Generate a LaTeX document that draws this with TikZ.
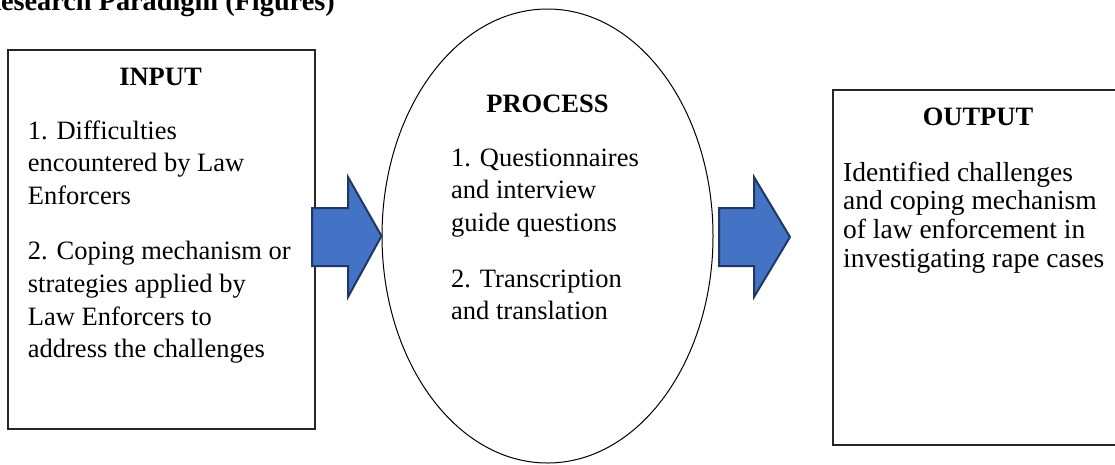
\documentclass[tikz,border=0pt]{standalone}
\usepackage{fontspec}
\setmainfont{Liberation Serif}
\usetikzlibrary{shapes.geometric}
\definecolor{arrowfill}{HTML}{4472C4}
\definecolor{arrowline}{HTML}{1F3864}
\begin{document}
\begin{tikzpicture}[x=1pt,y=-1pt,
  box/.style={draw=black!85, line width=1.5pt, inner sep=0pt},
  oval/.style={draw=black, ellipse, line width=1pt, inner sep=0pt},
  hd/.style={anchor=base, inner sep=0pt, font=\fontsize{26.5}{32}\selectfont\bfseries},
  body/.style={anchor=base west, inner sep=0pt, font=\fontsize{26.5}{32.6}\selectfont},
  outbody/.style={anchor=base west, inner sep=0pt, font=\fontsize{27.5}{28.8}\selectfont},
  blockarrow/.style={fill=arrowfill, draw=arrowline, line width=2pt, line join=miter}]
\useasboundingbox (0,0) rectangle (1115,464);
\clip (0,0) rectangle (1115,464);

% title (cut by the page edge)
\node[anchor=base east, inner sep=0pt, font=\fontsize{28.3}{34}\selectfont\bfseries] (title) at (335,10) {Research Paradigm (Figures)};

% shapes
\node[box, anchor=north west, minimum width=307pt, minimum height=379pt] (inbox) at (7,49) {};
\node[oval, minimum width=331pt, minimum height=454pt] (proc) at (547.5,236) {};
\node[box, anchor=north west, minimum width=300pt, minimum height=355pt] (outbox) at (832,89) {};

% block arrows
\coordinate (rtip) at (790,237);
\draw[blockarrow] (312,208) -- (348,208) -- (348,177) -- (proc.west) -- (348,297) -- (348,266) -- (312,266) -- cycle;
\draw[blockarrow] (719,208) -- (754,208) -- (754,177) -- (rtip) -- (754,297) -- (754,266) -- (719,266) -- cycle;

% headings
\node[hd] (inhd) at (160.5,85) {INPUT};
\node[hd] (prochd) at (547.5,112) {PROCESS};
\node[hd] (outhd) at (978,125) {OUTPUT};

% texts
\node[body] (intext) at (27.7,139) {\parbox[t]{300pt}{1. Difficulties\\ encountered by Law\\ Enforcers\\[23pt] 2. Coping mechanism or\\ strategies applied by\\ Law Enforcers to\\ address the challenges}};
\node[body] (proctext) at (451,166) {\parbox[t]{300pt}{1. Questionnaires\\ and interview\\ guide questions\\[23.5pt] 2. Transcription\\ and translation}};
\node[outbody] (outtext) at (843,181) {\parbox[t]{300pt}{Identified challenges\\ and coping mechanism\\ of law enforcement in\\ investigating rape cases}};
\end{tikzpicture}
\end{document}
